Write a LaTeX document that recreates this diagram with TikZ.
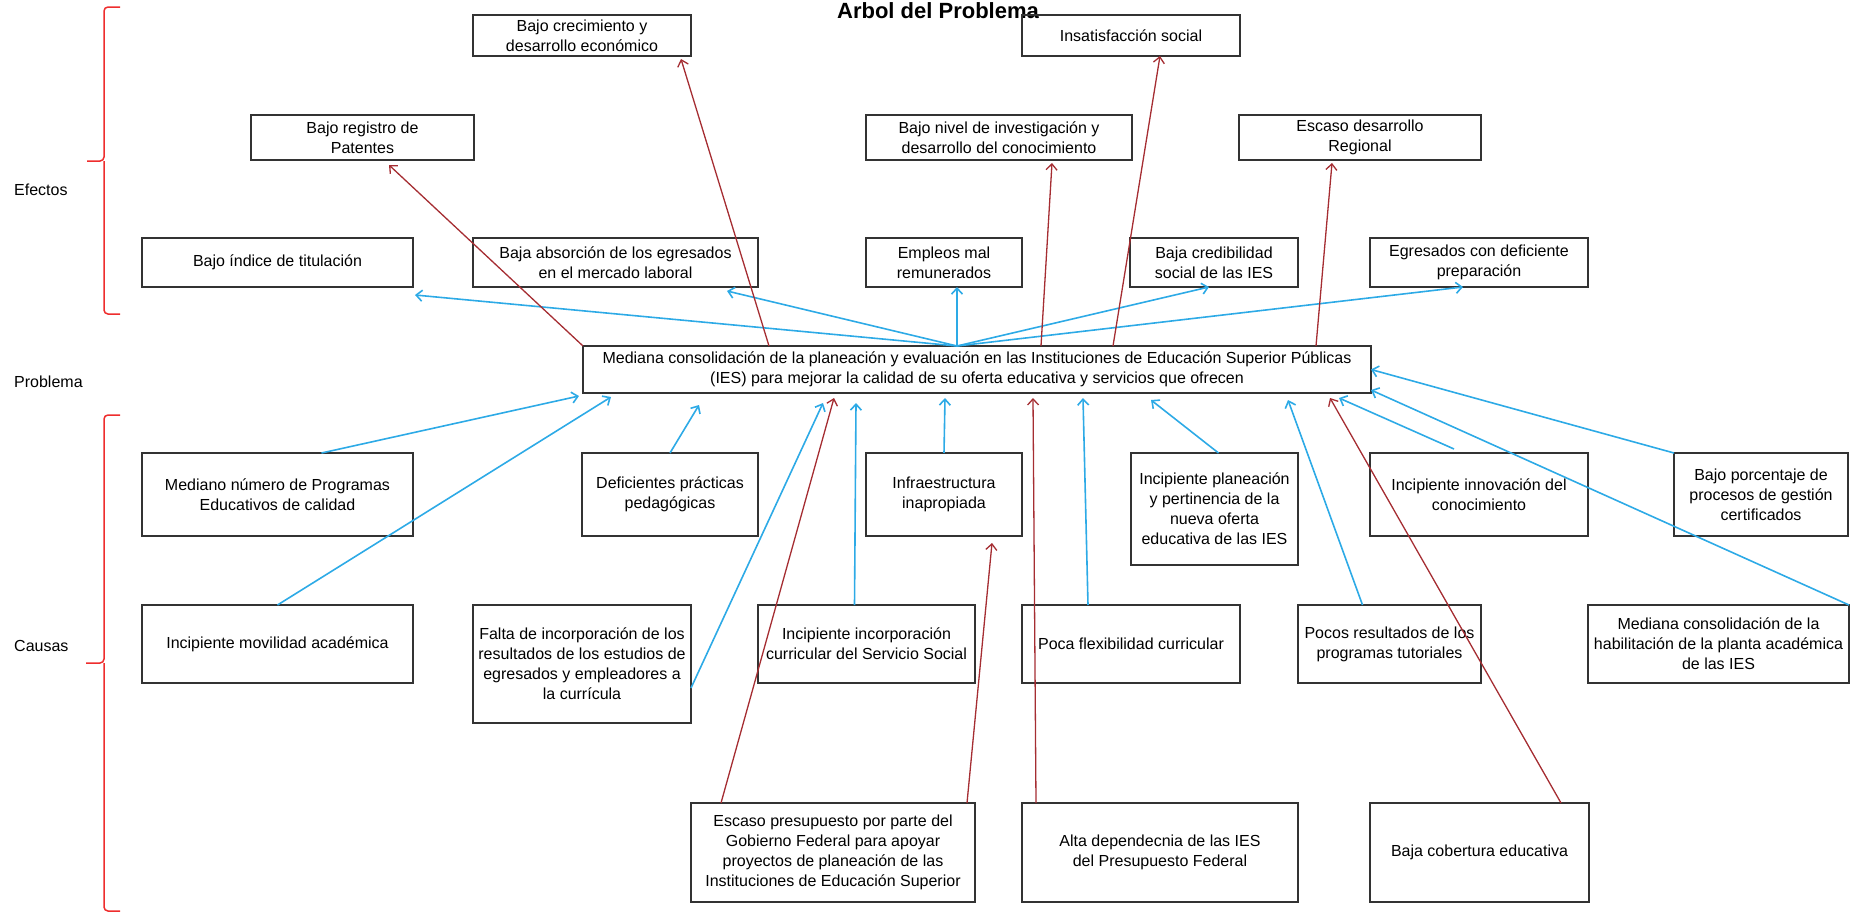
\documentclass[tikz,border=0pt]{standalone}
\usepackage{fontspec}
\setmainfont{Liberation Sans}
\usetikzlibrary{arrows.meta,calc}

\definecolor{celeste}{RGB}{45,170,230}
\definecolor{guinda}{RGB}{165,45,50}
\definecolor{rojo}{RGB}{238,45,45}

\begin{document}
\begin{tikzpicture}[
  x=1pt, y=-1pt,
  font=\fontsize{16}{20}\selectfont,
  bx/.style    = {draw=black!80, line width=1.5pt, align=center, inner sep=2pt,
                  outer sep=0pt, anchor=north west},
  e1/.style    = {bx, minimum height=41pt},
  e2/.style    = {bx, minimum height=45pt},
  e3/.style    = {bx, minimum height=49pt},
  c1/.style    = {bx, minimum height=83pt},
  c2/.style    = {bx, minimum height=78pt},
  c3/.style    = {bx, minimum height=99pt},
  azl/.style   = {-{Straight Barb[length=6pt,width=11pt]}, line width=1.6pt, celeste},
  roj/.style   = {-{Straight Barb[length=6pt,width=11pt]}, line width=1.3pt, guinda},
  llave/.style = {draw=rojo, line width=1.5pt, rounded corners=4pt},
  lbl/.style   = {anchor=west, inner sep=0pt},
]
\useasboundingbox (0,0) rectangle (1850,913);

% =========================== titulo y etiquetas ============================
\node[anchor=base, inner sep=0pt, font=\fontsize{22}{26}\selectfont\bfseries]
  (ttl) at (938,18) {Arbol del Problema};
\node[lbl] (efe) at (14,190) {Efectos};
\node[lbl] (pbl) at (14,382) {Problema};
\node[lbl] (cau) at (14,646) {Causas};

\draw[llave] (120,7) -- (104,7) -- (104,161) -- (87,161)
             (104,161) -- (104,314) -- (120,314);
\draw[llave] (120,415) -- (104,415) -- (104,663) -- (86,663)
             (104,663) -- (104,911) -- (120,911);

% =========================== EFECTOS =======================================
\node[e1, minimum width=218pt] (cre) at (473,15)  {Bajo crecimiento y\\desarrollo económico};
\node[e1, minimum width=218pt] (ins) at (1022,15) {Insatisfacción social};

\node[e2, minimum width=223pt] (pat) at (251,115)  {Bajo registro de\\Patentes};
\node[e2, minimum width=266pt] (inv) at (866,115)  {Bajo nivel de investigación y\\desarrollo del conocimiento};
\node[e2, minimum width=242pt] (reg) at (1239,115) {Escaso desarrollo\\Regional};

\node[e3, minimum width=271pt] (tit)  at (142,238)  {Bajo índice de titulación};
\node[e3, minimum width=285pt] (abs)  at (473,238)  {Baja absorción de los egresados\\en el mercado laboral};
\node[e3, minimum width=156pt] (emp)  at (866,238)  {Empleos mal\\remunerados};
\node[e3, minimum width=168pt] (cred) at (1130,238) {Baja credibilidad\\social de las IES};
\node[e3, minimum width=218pt] (egr)  at (1370,238) {Egresados con deficiente\\preparación};

% =========================== PROBLEMA ======================================
\node[bx, minimum width=788pt, minimum height=47pt] (prob) at (583,346)
  {Mediana consolidación de la planeación y evaluación en las Instituciones de Educación Superior Públicas\\
   (IES) para mejorar la calidad de su oferta educativa y servicios que ofrecen};

% =========================== CAUSAS ========================================
\node[c1, minimum width=271pt] (med) at (142,453)  {Mediano número de Programas\\Educativos de calidad};
\node[c1, minimum width=176pt] (def) at (582,453)  {Deficientes prácticas\\pedagógicas};
\node[c1, minimum width=156pt] (inf) at (866,453)  {Infraestructura\\inapropiada};
\node[bx, minimum width=167pt, minimum height=112pt] (pla) at (1131,453)
  {Incipiente planeación\\y pertinencia de la\\nueva oferta\\educativa de las IES};
\node[c1, minimum width=218pt] (inn) at (1370,453) {Incipiente innovación del\\conocimiento};
\node[c1, minimum width=174pt] (por) at (1674,453) {Bajo porcentaje de\\procesos de gestión\\certificados};

\node[c2, minimum width=271pt] (mov) at (142,605)  {Incipiente movilidad académica};
\node[bx, minimum width=218pt, minimum height=118pt] (fal) at (473,605)
  {Falta de incorporación de los\\resultados de los estudios de\\egresados y empleadores a\\la currícula};
\node[c2, minimum width=217pt] (cur) at (758,605)  {Incipiente incorporación\\curricular del Servicio Social};
\node[c2, minimum width=218pt] (fle) at (1022,605) {Poca flexibilidad curricular};
\node[c2, minimum width=183pt] (poc) at (1298,605) {Pocos resultados de los\\programas tutoriales};
\node[c2, minimum width=261pt] (hab) at (1588,605) {Mediana consolidación de la\\habilitación de la planta académica\\de las IES};

\node[c3, minimum width=284pt] (pre) at (691,803)
  {Escaso presupuesto por parte del\\Gobierno Federal para apoyar\\proyectos de planeación de las\\Instituciones de Educación Superior};
\node[c3, minimum width=276pt] (dep) at (1022,803) {Alta dependecnia de las IES\\del Presupuesto Federal};
\node[c3, minimum width=219pt] (cob) at (1370,803) {Baja cobertura educativa};

% =========================== flechas problema -> efectos ===================
\coordinate (hub) at ([xshift=-20pt]prob.north);
\draw[azl] (hub) -- ([xshift=2pt,yshift=-8pt]tit.south east);
\draw[azl] (hub) -- ([xshift=-31pt,yshift=-4pt]abs.south east);
\draw[azl] (hub) -- ([xshift=13pt]emp.south);
\draw[azl] (hub) -- ([xshift=-5pt]cred.south);
\draw[azl] (hub) -- ([xshift=-16pt]egr.south);

\draw[roj] (prob.north west)              -- ([xshift=-85pt,yshift=-5pt]pat.south east);
\draw[roj] ([xshift=186pt]prob.north west) -- ([xshift=-10pt,yshift=-3pt]cre.south east);
\draw[roj] ([xshift=64pt]prob.north)       -- ([xshift=-80pt,yshift=-3pt]inv.south east);
\draw[roj] ([xshift=136pt]prob.north)      -- ([xshift=-80pt]ins.south east);
\draw[roj] ([xshift=-55pt]prob.north east) -- ([xshift=93pt,yshift=-3pt]reg.south west);

% =========================== flechas causas -> problema ====================
\draw[azl] ([xshift=44pt]med.north)  -- ([xshift=-4pt,yshift=-3pt]prob.south west);
\draw[azl] (mov.north)               -- ([xshift=28pt,yshift=-4pt]prob.south west);
\draw[azl] (def.north)               -- ([xshift=116pt,yshift=-12pt]prob.south west);
\draw[azl] ([yshift=-24pt]fal.east)  -- ([xshift=240pt,yshift=-10pt]prob.south west);
\draw[azl] ([xshift=-12pt]cur.north) -- ([xshift=273pt,yshift=-10pt]prob.south west);
\draw[azl] (inf.north)               -- ([xshift=-32pt,yshift=-5pt]prob.south);
\draw[azl] ([xshift=-43pt]fle.north) -- ([xshift=106pt,yshift=-5pt]prob.south);
\draw[azl] ([xshift=4pt]pla.north)   -- ([xshift=174pt,yshift=-7pt]prob.south);
\draw[azl] ([xshift=-27pt]poc.north) -- ([xshift=-83pt,yshift=-7pt]prob.south east);
\draw[azl] ([xshift=-25pt,yshift=4pt]inn.north) -- ([xshift=-32pt,yshift=-5pt]prob.south east);
\draw[azl] (hab.north east)          -- ([yshift=3pt]prob.south east);
\draw[azl] (por.north west)          -- (prob.east);

\draw[roj] ([xshift=30pt]pre.north west)  -- ([xshift=251pt,yshift=-5pt]prob.south west);
\draw[roj] ([xshift=-8pt]pre.north east)  -- ([xshift=-30pt,yshift=-7pt]inf.south east);
\draw[roj] ([xshift=14pt]dep.north west)  -- ([xshift=56pt,yshift=-5pt]prob.south);
\draw[roj] ([xshift=-28pt]cob.north east) -- ([xshift=-41pt,yshift=-5pt]prob.south east);

\end{tikzpicture}
\end{document}
